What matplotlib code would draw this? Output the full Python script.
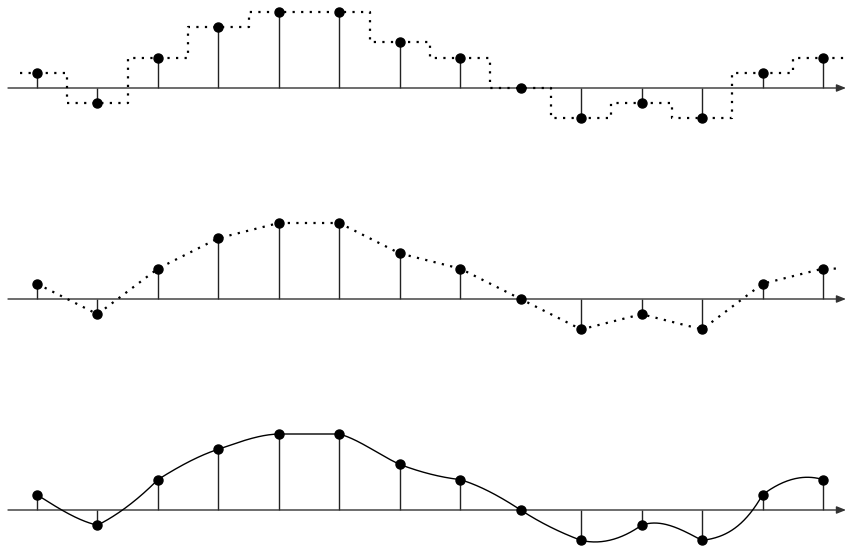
import numpy as np
import matplotlib
matplotlib.use("Agg")
import matplotlib.pyplot as plt

# sample index and sample values (same signal in all three rows)
n = np.arange(14)
samples = [1, -1, 2, 4, 5, 5, 3, 2, 0, -2, -1, -2, 1, 2]

# end slopes (amplitude per sample) of each curve piece in the bottom row:
# slope leaving sample k and slope arriving at sample k+1
slope_out = [-2.5, 2.0, 2.5, 1.35, 0.0, -1.1, -1.5, -1.2, -2.6, -0.9, 1.4, 0.5, 3.0]
slope_in = [-0.9, 4.0, 1.3, 0.1, 0.0, -1.8, -0.45, -2.6, -1.5, 2.8, -2.1, 7.0, -1.2]

W, H, DPI = 848, 548, 100
PX_PER_N = 60.46       # horizontal pixels per sample
PX_PER_UNIT = 15.2     # vertical pixels per amplitude unit
X0_PX = 37             # pixel position of sample 0
baselines_px = [88, 299, 510]


def hermite_pieces(x, y, m_out, m_in, per_piece=60):
    xs_all, ys_all = [], []
    for k in range(len(x) - 1):
        h = x[k + 1] - x[k]
        t = np.linspace(0, 1, per_piece)
        h00 = 2 * t ** 3 - 3 * t ** 2 + 1
        h10 = t ** 3 - 2 * t ** 2 + t
        h01 = -2 * t ** 3 + 3 * t ** 2
        h11 = t ** 3 - t ** 2
        yk = h00 * y[k] + h10 * h * m_out[k] + h01 * y[k + 1] + h11 * h * m_in[k]
        xs_all.append(x[k] + t * h)
        ys_all.append(yk)
    return np.concatenate(xs_all), np.concatenate(ys_all)


fig = plt.figure(figsize=(W / DPI, H / DPI), dpi=DPI)

xlim = (-X0_PX / PX_PER_N, (W - X0_PX) / PX_PER_N)
above, below = 95, 60
axes = []
for b in baselines_px:
    ax = fig.add_axes([0, 1 - (b + below) / H, 1, (above + below) / H])
    ax.set_xlim(*xlim)
    ax.set_ylim(-below / PX_PER_UNIT, above / PX_PER_UNIT)
    ax.axis("off")
    axes.append(ax)

dot = dict(linestyle=(0, (1, 2.85)), lw=1.6, color="black", dash_capstyle="butt")

for ax in axes:
    x_start = (8 - X0_PX) / PX_PER_N
    x_end = (846 - X0_PX) / PX_PER_N
    ax.annotate("", xy=(x_end, 0), xytext=(x_start, 0),
                arrowprops=dict(arrowstyle="-|>,head_length=0.55,head_width=0.22",
                                color="#333333", lw=1.0, shrinkA=0, shrinkB=0))
    ax.vlines(n, 0, samples, color="#222222", lw=1.0, zorder=2)

# top row: zero-order hold
top_ax = axes[0]
edges = np.concatenate([[-0.28], n[:-1] + 0.5, [13.6]])
xs_step = np.repeat(edges, 2)[1:-1]
ys_step = np.repeat(samples, 2)
top_ax.plot(xs_step, ys_step, **dot, zorder=3)

# middle row: linear interpolation
mid_ax = axes[1]
mid_ax.plot(list(n) + [13.25], samples + [samples[-1]], **dot, zorder=3)

# bottom row: smooth curve through the samples
bot_ax = axes[2]
xc, yc = hermite_pieces(n, samples, slope_out, slope_in)
bot_ax.plot(xc, yc, color="black", lw=1.0, zorder=3)

for ax in axes:
    ax.plot(n, samples, "o", color="black", markersize=6.5, zorder=4)

fig.savefig("out.png", dpi=DPI)
